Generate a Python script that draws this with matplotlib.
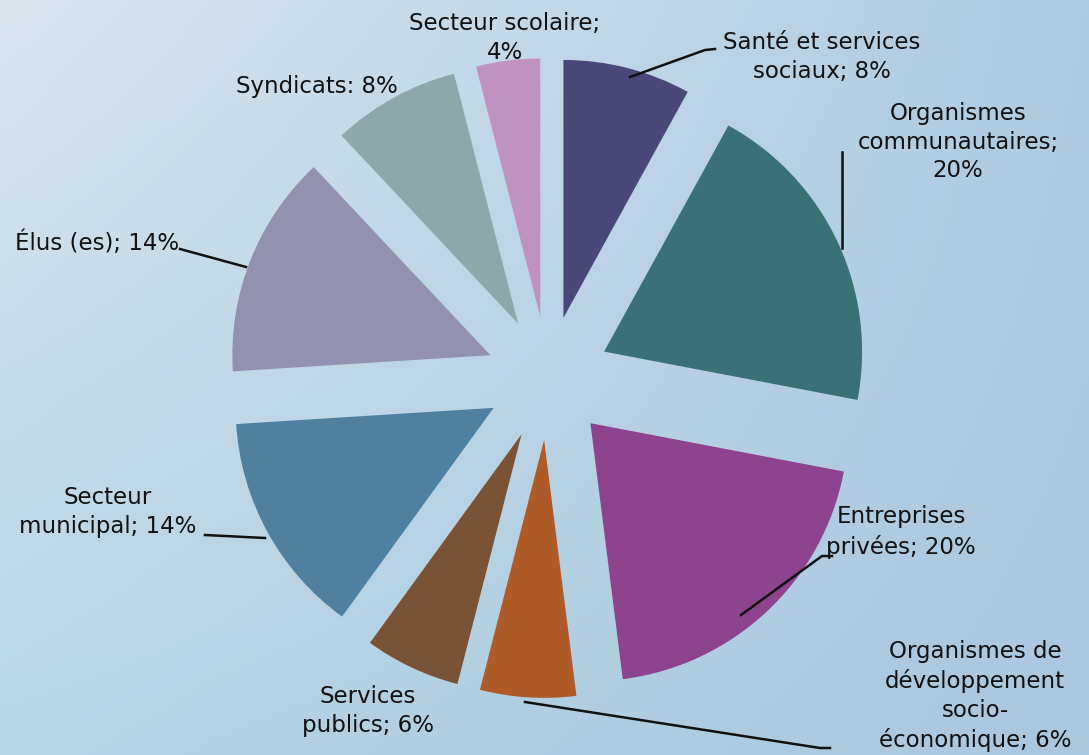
import numpy as np
import matplotlib.pyplot as plt
from matplotlib.colors import to_rgb

W, H = 1089, 755

labels = ["Santé et services\nsociaux; 8%",
          "Organismes\ncommunautaires;\n20%",
          "Entreprises\nprivées; 20%",
          "Organismes de\ndéveloppement\nsocio-\néconomique; 6%",
          "Services\npublics; 6%",
          "Secteur\nmunicipal; 14%",
          "Élus (es); 14%",
          "Syndicats: 8%",
          "Secteur scolaire;\n4%"]
values = [8, 20, 20, 6, 6, 14, 14, 8, 4]
colors = ["#4A4878", "#3A7174", "#8E438E", "#AE5A29", "#7A5236",
          "#4F80A0", "#9291AE", "#8FA7AA", "#BF93BE"]

# label text positions (px, y from top) and leader line points
text_pos = [(822, 57), (958, 142), (901, 532), (975, 696), (368, 711),
            (108, 512), (97, 243), (317, 86), (505, 38)]
leaders = [[(630, 77), (705, 50), (715, 49)],
           [(842, 248), (842, 152)],
           [(741, 615), (822, 556), (832, 556)],
           [(525, 702), (820, 748), (830, 748)],
           None,
           [(265, 538), (205, 535)],
           [(246, 267), (180, 249)],
           None,
           None]

fig = plt.figure(figsize=(W / 100, H / 100), dpi=100)
ax = fig.add_axes([0, 0, 1, 1])

# background gradient
tl, tr = np.array(to_rgb("#DAE5EE")), np.array(to_rgb("#AECBE0"))
bl, br = np.array(to_rgb("#B7D4E3")), np.array(to_rgb("#A9C8DE"))
u = np.linspace(0, 1, 200)[None, :, None]
v = np.linspace(0, 1, 140)[:, None, None]
grad = (1 - v) * ((1 - u) * tl + u * tr) + v * ((1 - u) * bl + u * br)
ax.imshow(grad, extent=[0, W, 0, H], origin="upper", aspect="auto",
          zorder=0, interpolation="bilinear")

R = 258
ax.pie(values, colors=colors, startangle=90, counterclock=False,
       center=(548, H - 378), radius=R, explode=[62] * len(values),
       wedgeprops=dict(linewidth=0, zorder=2), frame=True)
ax.set_xlim(0, W)
ax.set_ylim(0, H)
ax.set_aspect("equal")
ax.axis("off")

for lab, (tx, ty), ld in zip(labels, text_pos, leaders):
    ax.text(tx, H - ty, lab, ha="center", va="center", fontsize=16.5,
            color="#111111", linespacing=1.32, zorder=4)
    if ld:
        xs = [p[0] for p in ld]
        ys = [H - p[1] for p in ld]
        ax.plot(xs, ys, color="#111111", lw=1.8, zorder=3)

fig.savefig("out.png", dpi=100)
